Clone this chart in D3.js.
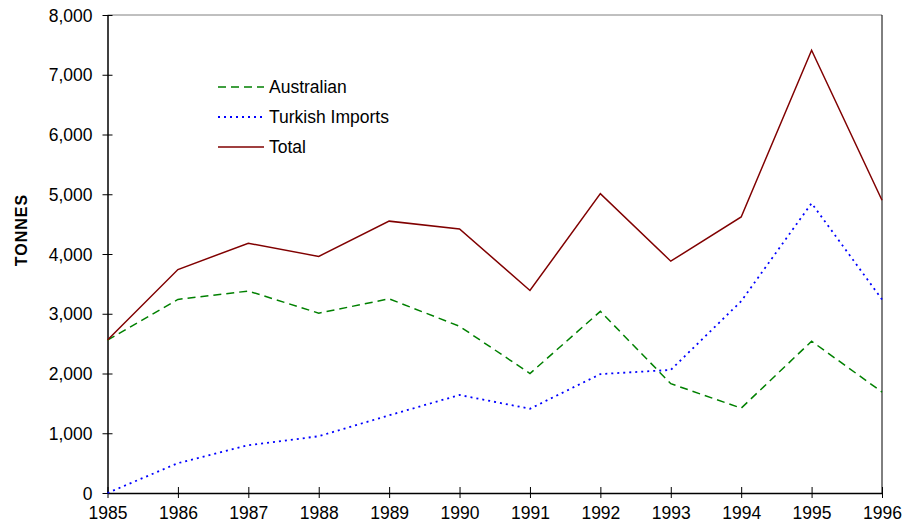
<!DOCTYPE html>
<meta charset="utf-8">
<style>
    body { margin: 0; background: #fff; }
    svg text { font-family: "Liberation Sans", Arial, sans-serif; fill: #000; }
    .tick-label { font-size: 17.5px; }
    .legend text { font-size: 17.5px; }
</style>
<svg width="904" height="532"></svg>
<script src="https://cdn.jsdelivr.net/npm/d3@7"></script>
<script>

    var years = [1985, 1986, 1987, 1988, 1989, 1990, 1991, 1992, 1993, 1994, 1995, 1996];
    var australian = [2560, 3240, 3380, 3010, 3250, 2790, 2000, 3040, 1830, 1420, 2540, 1690];
    var turkish = [0, 500, 800, 950, 1300, 1640, 1410, 1990, 2060, 3210, 4850, 3240];
    var total = [2560, 3740, 4180, 3960, 4550, 4420, 3390, 5010, 3880, 4620, 7410, 4900];
    var yTicks = [0, 1000, 2000, 3000, 4000, 5000, 6000, 7000, 8000];

    var svg = d3.select("svg"),
        mLeft = 107.5, mRight = 882, mTop = 15, mBottom = 493;

    var x = d3.scaleLinear().domain([1985, 1996]).range([mLeft, mRight]);
    var y = d3.scaleLinear().domain([0, 8000]).range([mBottom, mTop]);

    // frame: top grey, right black
    svg.append("line").attr("x1", mLeft).attr("x2", mRight).attr("y1", mTop).attr("y2", mTop)
        .attr("stroke", "#808080").attr("stroke-width", 1);
    svg.append("line").attr("x1", mRight).attr("x2", mRight).attr("y1", mTop).attr("y2", mBottom)
        .attr("stroke", "#000").attr("stroke-width", 1);

    // y axis
    var yAxis = d3.axisLeft(y).tickValues(yTicks).tickSize(0).tickPadding(15)
        .tickFormat(d3.format(","));
    var gy = svg.append("g").attr("transform", "translate(" + mLeft + ",0)").call(yAxis);
    gy.select(".domain").attr("stroke", "#000").attr("stroke-width", 1.5);
    gy.selectAll(".tick text").attr("class", "tick-label").attr("font-size", null)
        .attr("font-family", null).attr("dy", "0.35em");
    gy.selectAll(".tick").append("line").attr("x1", -5).attr("x2", 5).attr("stroke", "#000");

    // x axis
    var xAxis = d3.axisBottom(x).tickValues(years).tickSize(0).tickPadding(14)
        .tickFormat(d3.format("d"));
    var gx = svg.append("g").attr("transform", "translate(0," + mBottom + ")").call(xAxis);
    gx.select(".domain").attr("stroke", "#000").attr("stroke-width", 1.5);
    gx.selectAll(".tick text").attr("class", "tick-label").attr("font-size", null)
        .attr("font-family", null);
    gx.selectAll(".tick").append("line").attr("y1", -6).attr("y2", 5).attr("stroke", "#000");

    // axis title
    svg.append("text")
        .attr("transform", "translate(27," + 230 + ") rotate(-90)")
        .attr("text-anchor", "middle")
        .style("font-size", "16px").style("font-weight", "bold")
        .style("letter-spacing", "1px")
        .text("TONNES");

    var series = [
        { name: "Australian", values: australian, color: "#008000", dash: "8,5", width: 1.5 },
        { name: "Turkish Imports", values: turkish, color: "#0000ff", dash: "2,4", width: 1.8 },
        { name: "Total", values: total, color: "#800000", dash: null, width: 1.5 }
    ];

    var line = d3.line()
        .x(function (d, i) { return x(years[i]); })
        .y(function (d) { return y(d); });

    svg.selectAll(".series")
        .data(series)
        .enter().append("path")
        .attr("class", "series")
        .attr("fill", "none")
        .attr("stroke", function (d) { return d.color; })
        .attr("stroke-width", function (d) { return d.width; })
        .attr("stroke-dasharray", function (d) { return d.dash; })
        .attr("d", function (d) { return line(d.values); });

    // legend
    var legend = svg.append("g").attr("class", "legend");
    var item = legend.selectAll("g")
        .data(series)
        .enter().append("g")
        .attr("transform", function (d, i) { return "translate(218," + (87 + i * 30) + ")"; });
    item.append("line")
        .attr("x1", 0).attr("x2", 46)
        .attr("stroke", function (d) { return d.color; })
        .attr("stroke-width", function (d) { return d.width; })
        .attr("stroke-dasharray", function (d) { return d.dash; });
    item.append("text")
        .attr("x", 51).attr("dy", "0.35em")
        .text(function (d) { return d.name; });

</script>
